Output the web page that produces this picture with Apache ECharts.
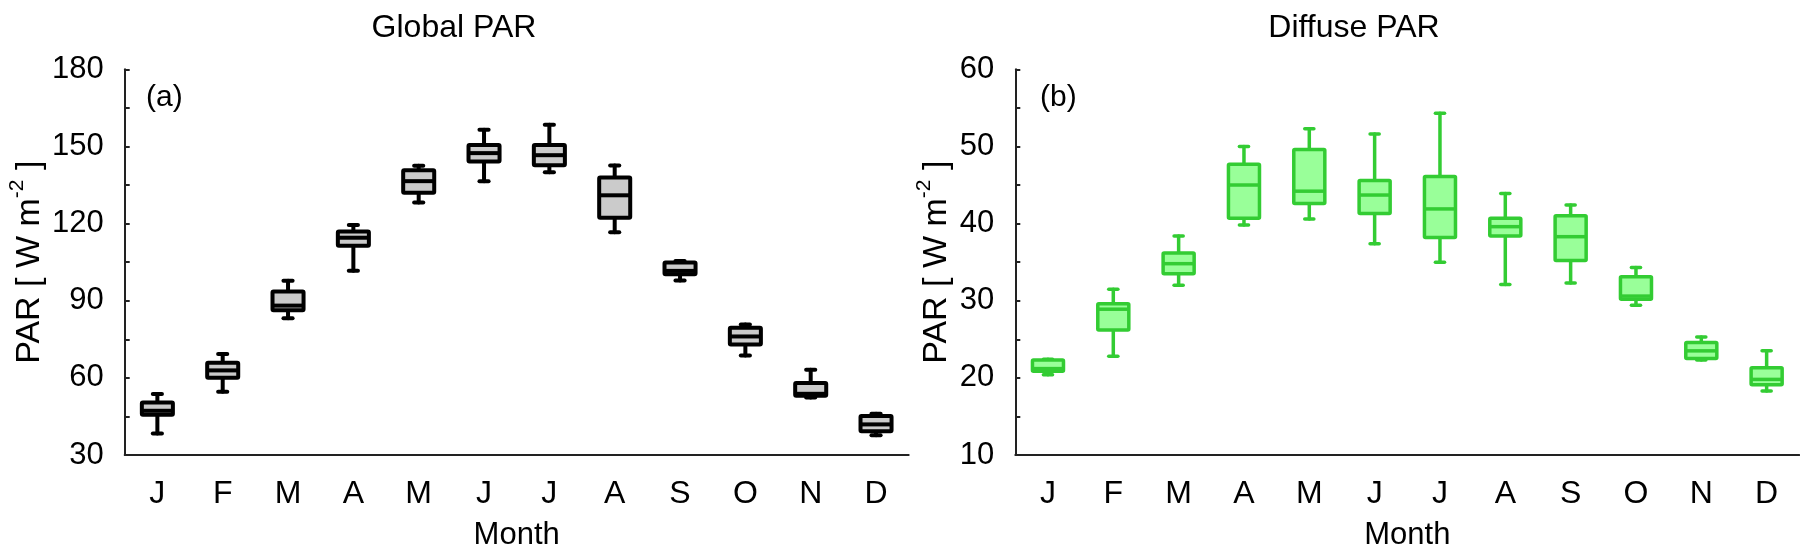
<!DOCTYPE html>
<html>
<head>
<meta charset="utf-8">
<script src="https://cdn.jsdelivr.net/npm/echarts@6/dist/echarts.min.js"></script>
<style>
html,body{margin:0;padding:0;background:#fff;}
#c{width:1800px;height:556px;}
</style>
</head>
<body>
<div id="c"></div>
<script>
// ---- data ----
const months = ['J','F','M','A','M','J','J','A','S','O','N','D'];

// Global PAR (W m-2)
const globalMin = [38.4, 54.6, 83.2, 101.7, 128.2, 136.5, 140.0, 116.6, 97.9, 68.7, 52.4, 37.7];
const globalQ1  = [45.7, 60.0, 86.3, 111.4, 132.0, 144.1, 142.7, 122.3, 100.3, 73.0, 53.0, 39.2];
const globalMed = [47.2, 62.9, 88.1, 114.5, 136.5, 147.4, 146.6, 131.0, 101.6, 76.1, 53.8, 41.9];
const globalQ3  = [50.4, 65.9, 93.6, 116.9, 140.7, 150.6, 150.6, 137.9, 104.9, 79.5, 58.0, 45.2];
const globalMax = [53.7, 69.3, 97.8, 119.4, 142.5, 156.5, 158.4, 142.6, 105.4, 80.8, 63.2, 46.0];

// Diffuse PAR (W m-2)
const diffuseMin = [20.4, 22.8, 32.0, 39.8, 40.6, 37.4, 35.0, 32.1, 32.3, 29.4, 22.3, 18.3];
const diffuseQ1  = [20.85, 26.2, 33.5, 40.7, 42.6, 41.3, 38.2, 38.4, 35.2, 30.2, 22.5, 19.1];
const diffuseMed = [21.2, 28.9, 34.8, 45.0, 44.2, 43.7, 41.9, 39.6, 38.3, 30.6, 23.5, 19.8];
const diffuseQ3  = [22.3, 29.6, 36.2, 47.7, 49.6, 45.6, 46.1, 40.7, 41.0, 33.1, 24.6, 21.3];
const diffuseMax = [22.4, 31.5, 38.4, 50.0, 52.3, 51.6, 54.3, 43.9, 42.4, 34.3, 25.3, 23.5];

const globalTicks = {min: 30, max: 180, interval: 15, labelStep: 30};
const diffuseTicks = {min: 10, max: 60, interval: 5, labelStep: 10};

// ---- build ----
const FONT = "'Liberation Sans', Arial, Helvetica, sans-serif";

function rows(mn, q1, md, q3, mx) {
  return months.map((m, i) => [i, mn[i], q1[i], md[i], q3[i], mx[i]]);
}

function makeRender(stroke, fill, lw) {
  return function (params, api) {
    const x = api.value(0);
    const pMin = api.coord([x, api.value(1)]);
    const pQ1 = api.coord([x, api.value(2)]);
    const pMed = api.coord([x, api.value(3)]);
    const pQ3 = api.coord([x, api.value(4)]);
    const pMax = api.coord([x, api.value(5)]);
    const band = api.size([1, 0])[0];
    const cx = pMed[0];
    const hw = band * 0.475 / 2;
    const cw = band * 0.14 / 2;
    const ls = {stroke: stroke, lineWidth: lw, lineCap: 'round'};
    return {
      type: 'group',
      children: [
        {type: 'line', shape: {x1: cx, y1: pQ1[1], x2: cx, y2: pMin[1]}, style: ls},
        {type: 'line', shape: {x1: cx, y1: pQ3[1], x2: cx, y2: pMax[1]}, style: ls},
        {type: 'line', shape: {x1: cx - cw, y1: pMin[1], x2: cx + cw, y2: pMin[1]}, style: ls},
        {type: 'line', shape: {x1: cx - cw, y1: pMax[1], x2: cx + cw, y2: pMax[1]}, style: ls},
        {type: 'rect', shape: {x: cx - hw, y: pQ3[1], width: 2 * hw, height: pQ1[1] - pQ3[1], r: 1},
         style: {fill: fill, stroke: stroke, lineWidth: lw, lineJoin: 'round'}},
        {type: 'line', shape: {x1: cx - hw, y1: pMed[1], x2: cx + hw, y2: pMed[1]}, style: {stroke: stroke, lineWidth: lw}}
      ]
    };
  };
}

const axisColor = '#222';
function xAx(gi) {
  return {
    type: 'category', gridIndex: gi, data: months, boundaryGap: true,
    axisLine: {lineStyle: {color: axisColor, width: 2}},
    axisTick: {inside: true, alignWithLabel: true, length: 8, lineStyle: {color: axisColor, width: 2}},
    axisLabel: {fontSize: 32, color: '#000', margin: 23, fontFamily: FONT},
    splitLine: {show: false},
    name: 'Month', nameLocation: 'middle', nameGap: 65,
    nameTextStyle: {fontSize: 31, color: '#000', fontFamily: FONT}
  };
}
function yAx(gi, t, gap) {
  return {
    type: 'value', gridIndex: gi, min: t.min, max: t.max, interval: t.interval,
    axisLine: {show: true, lineStyle: {color: axisColor, width: 2}},
    axisTick: {show: true, inside: true, length: 5, lineStyle: {color: axisColor, width: 2}},
    axisLabel: {fontSize: 31, color: '#000', margin: 21, fontFamily: FONT,
      formatter: v => (Math.round(v) % t.labelStep === 0 ? String(v) : '')},
    splitLine: {show: false},
    name: '{a|PAR [ W m}{s|-2}{a| ]}', nameLocation: 'middle', nameRotate: 90, nameGap: gap,
    nameTextStyle: {
      color: '#000', fontFamily: FONT, fontSize: 34,
      rich: {
        a: {fontSize: 34, fontFamily: FONT, color: '#000', lineHeight: 40, verticalAlign: 'bottom'},
        s: {fontSize: 21, fontFamily: FONT, color: '#000', lineHeight: 21, verticalAlign: 'top'}
      }
    }
  };
}

const option = {
  animation: false,
  backgroundColor: '#fff',
  grid: [
    {left: 124.7, top: 69.3, width: 784, height: 391.7},
    {left: 1015.3, top: 69.3, width: 784, height: 391.7}
  ],
  xAxis: [xAx(0), xAx(1)],
  yAxis: [yAx(0, globalTicks, 78), yAx(1, diffuseTicks, 62)],
  graphic: [
    {type: 'text', x: 454, y: 28, style: {text: 'Global PAR', fontSize: 32, fontFamily: FONT, fill: '#000', align: 'center', verticalAlign: 'middle'}},
    {type: 'text', x: 1354, y: 28, style: {text: 'Diffuse PAR', fontSize: 32, fontFamily: FONT, fill: '#000', align: 'center', verticalAlign: 'middle'}},
    {type: 'text', x: 146, y: 98, style: {text: '(a)', fontSize: 30, fontFamily: FONT, fill: '#000', align: 'left', verticalAlign: 'middle'}},
    {type: 'text', x: 1040, y: 98, style: {text: '(b)', fontSize: 30, fontFamily: FONT, fill: '#000', align: 'left', verticalAlign: 'middle'}}
  ],
  series: [
    {type: 'custom', xAxisIndex: 0, yAxisIndex: 0,
     data: rows(globalMin, globalQ1, globalMed, globalQ3, globalMax),
     encode: {x: 0, y: [1, 2, 3, 4, 5]},
     renderItem: makeRender('#000', '#cbcbcb', 4)},
    {type: 'custom', xAxisIndex: 1, yAxisIndex: 1,
     data: rows(diffuseMin, diffuseQ1, diffuseMed, diffuseQ3, diffuseMax),
     encode: {x: 0, y: [1, 2, 3, 4, 5]},
     renderItem: makeRender('#33cc33', '#99ff99', 3.5)}
  ]
};

const chart = echarts.init(document.getElementById('c'), null, {renderer: 'canvas', width: 1800, height: 556});
chart.setOption(option);
</script>
</body>
</html>
